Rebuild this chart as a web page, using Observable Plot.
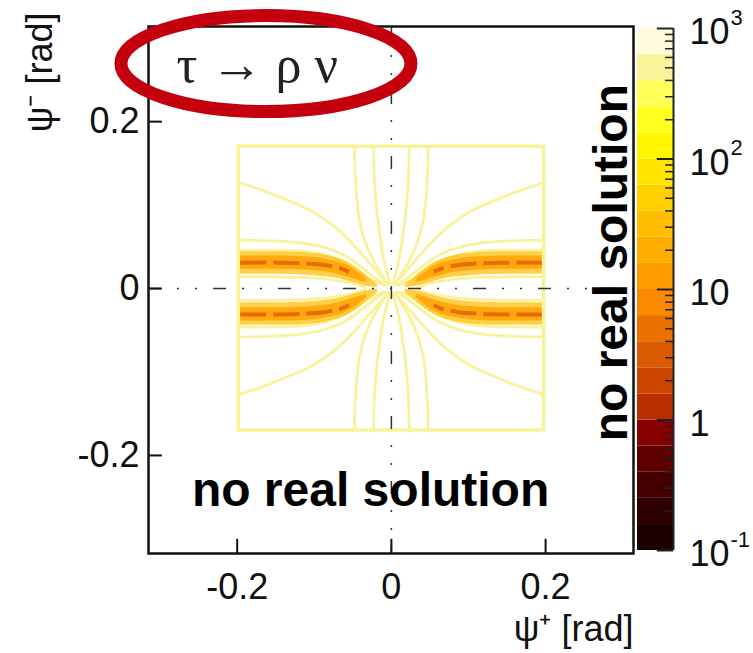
<!DOCTYPE html>
<html><head><meta charset="utf-8">
<script src="https://cdn.jsdelivr.net/npm/d3@7"></script>
<script src="https://cdn.jsdelivr.net/npm/@observablehq/plot@0.6"></script>
<style>
body{margin:0;background:#fff;}
#chart{position:relative;width:753px;height:653px;overflow:hidden;background:#fff;}
#chart svg{position:absolute;left:0;top:0;}
</style></head><body><div id="chart"></div>
<script>
// ---- axes ----
const xTicks = [-0.2, 0, 0.2];
const yTicks = [-0.2, 0, 0.2];
const xDomain = [-0.315, 0.314];
const yDomain = [-0.3175, 0.314];

// ---- colour levels (log bands, 10^-1 .. 10^3) ----
const levelEdges = [0.158, 0.251, 0.398, 0.631, 1, 1.585, 2.512, 3.981, 6.31, 10, 15.85, 25.12, 39.81, 63.1, 100, 158.5, 251.2, 398.1, 631];
const palette = ["#1c0000","#2e0000","#440000","#5e0000","#860000","#b83000","#cc4600","#dc5a00","#ec7000","#fb8a00",
                 "#ff9c00","#ffad00","#ffbe00","#ffcf00","#ffe400","#fff500","#ffff20","#ffff58","#f8f39a","#fffbdc"];
const cbMajor = [0.1, 1, 10, 100, 1000];
const cbBase = ["10", "1", "10", "10", "10"];
const cbExp = ["-1", "", "", "2", "3"];
const cbMinor = [0.2,0.3,0.4,0.5,0.6,0.7,0.8,0.9, 2,3,4,5,6,7,8,9, 20,30,40,50,60,70,80,90, 200,300,400,500,600,700,800,900];

// ---- contour picture (upper-left quadrant, picture is mirror symmetric) ----
const boxX = [-0.198, 0.198];
const boxY = [-0.17, 0.17];
const lineLevel = 500;
const curveDiag = [[-0.198,0.127],[-0.165,0.117],[-0.13,0.104],[-0.10,0.091],[-0.075,0.075],[-0.055,0.058],[-0.038,0.041],[-0.022,0.024],[-0.008,0.009]];
const curveH1 = [[-0.198,0.058],[-0.15,0.057],[-0.12,0.055],[-0.09,0.050],[-0.066,0.042],[-0.048,0.032],[-0.034,0.022],[-0.02,0.012],[-0.007,0.004]];
const curveH2 = [[-0.198,0.046],[-0.15,0.046],[-0.12,0.045],[-0.095,0.042],[-0.075,0.037],[-0.057,0.029],[-0.042,0.020],[-0.026,0.011],[-0.01,0.004]];
const curveLens = [[-0.198,0.014],[-0.15,0.014],[-0.11,0.013],[-0.08,0.011],[-0.06,0.008],[-0.045,0.005],[-0.034,0.001]];
const curveV1 = [[-0.048,0.17],[-0.047,0.14],[-0.045,0.11],[-0.041,0.08],[-0.034,0.056],[-0.024,0.035],[-0.012,0.016],[-0.004,0.005]];
const curveV2 = [[-0.023,0.17],[-0.022,0.13],[-0.019,0.095],[-0.015,0.065],[-0.011,0.04],[-0.006,0.02],[-0.002,0.006]];
// band edges [x, lower, upper]
const bandOuterEdges = [[-0.198,0.017,0.044],[-0.15,0.017,0.044],[-0.11,0.016,0.043],[-0.085,0.014,0.040],[-0.065,0.011,0.035],[-0.05,0.007,0.028],[-0.038,0.004,0.020],[-0.028,0.002,0.012],[-0.018,0.001,0.005]];
const bandMidEdges = [[-0.198,0.023,0.039],[-0.15,0.023,0.039],[-0.11,0.022,0.038],[-0.085,0.020,0.035],[-0.065,0.016,0.031],[-0.05,0.012,0.024],[-0.04,0.009,0.017],[-0.032,0.007,0.011]];
const bandCore = [[-0.196,0.031],[-0.15,0.031],[-0.11,0.030],[-0.085,0.028],[-0.065,0.024],[-0.055,0.020]];
const bandOuterLevel = 30, bandMidLevel = 12, bandCoreLevel = 2.8;

// ---- annotations ----
const titleText = ["τ → ρ ν"];
const titlePos = [-0.174, 0.247];
const ellipseCenter = [-0.162, 0.269];
const notes = [
  {text: "no real solution", x: -0.027, y: -0.26, rotate: 0},
  {text: "no real solution", x: 0.306, y: 0.031, rotate: -90}
];

const quadrants = [[1,1],[-1,1],[1,-1],[-1,-1]];
function mirror(name, pts, level) {
  return quadrants.flatMap(([sx, sy], q) => pts.map(([x, y]) => ({x: sx * x, y: sy * y, level, id: name + q})));
}
function mirrorBand(name, pts, level) {
  return quadrants.flatMap(([sx, sy], q) => pts.map(([x, lo, hi]) => ({x: sx * x, y1: sy * lo, y2: sy * hi, level, id: name + q})));
}
const lineRows = [
  ...mirror("diag", curveDiag, lineLevel), ...mirror("h1", curveH1, lineLevel),
  ...mirror("h2", curveH2, lineLevel), ...mirror("lens", curveLens, lineLevel),
  ...mirror("v1", curveV1, lineLevel), ...mirror("v2", curveV2, lineLevel)
];
const bandOuter = mirrorBand("bo", bandOuterEdges, bandOuterLevel);
const bandMid = mirrorBand("bm", bandMidEdges, bandMidLevel);
const bandCoreRows = mirror("bc", bandCore, bandCoreLevel);
const box = [{x1: boxX[0], x2: boxX[1], y1: boxY[0], y2: boxY[1], level: lineLevel}];

const fmt = d => d === 0 ? "0" : String(d);
const font = "'Liberation Sans', Arial, Helvetica, sans-serif";
const colorScale = {type: "threshold", domain: levelEdges, range: palette};

const main = Plot.plot({
  width: 753, height: 653,
  marginLeft: 148, marginRight: 120, marginTop: 26, marginBottom: 100,
  style: {fontFamily: font, fontSize: "36px", background: "transparent", color: "#111"},
  x: {domain: xDomain, ticks: xTicks, tickFormat: fmt, tickSize: 0, tickPadding: 20, label: null},
  y: {domain: yDomain, ticks: yTicks, tickFormat: fmt, tickSize: 0, tickPadding: 9, label: null},
  color: colorScale,
  marks: [
    Plot.line(lineRows, {x: "x", y: "y", z: "id", stroke: "level", strokeWidth: 2.8, curve: "catmull-rom"}),
    Plot.areaY(bandOuter, {x: "x", y1: "y1", y2: "y2", z: "id", fill: "level", fillOpacity: 0.72, curve: "catmull-rom"}),
    Plot.areaY(bandMid, {x: "x", y1: "y1", y2: "y2", z: "id", fill: "level", fillOpacity: 0.78, curve: "catmull-rom"}),
    Plot.line(bandCoreRows, {x: "x", y: "y", z: "id", stroke: "level", strokeWidth: 4, strokeOpacity: 0.75, strokeLinecap: "butt", strokeDasharray: "26,7", curve: "catmull-rom"}),
    Plot.rect(box, {x1: "x1", x2: "x2", y1: "y1", y2: "y2", stroke: "level", fill: "none", strokeWidth: 3.5}),
    Plot.ruleX([0], {stroke: "#333", strokeWidth: 1.5, strokeDasharray: "13,16,2,16,2,16"}),
    Plot.ruleY([0], {stroke: "#333", strokeWidth: 1.5, strokeDasharray: "13,16,2,16,2,16"}),
    Plot.ruleX(xTicks, {y1: yDomain[0], y2: yDomain[0] + 0.017, stroke: "#111", strokeWidth: 2}),
    Plot.ruleY(yTicks, {x1: xDomain[0], x2: xDomain[0] + 0.018, stroke: "#111", strokeWidth: 2}),
    Plot.frame({stroke: "#111", strokeWidth: 2.5}),
    Plot.text(notes, {x: "x", y: "y", text: "text", rotate: "rotate", textAnchor: "middle", lineAnchor: "bottom",
      fontSize: 48, fontWeight: "bold", fill: "#000"}),
    Plot.text(titleText, {x: titlePos[0], y: titlePos[1], text: d => d, textAnchor: "middle", lineAnchor: "bottom",
      fontSize: 52, fontFamily: "'Liberation Serif', 'DejaVu Serif', serif", fill: "#222"}),
    Plot.text(["ψ⁺ [rad]"], {frameAnchor: "bottom-right", text: d => d, textAnchor: "end", lineAnchor: "bottom", dy: 87, fontSize: 36}),
    Plot.text(["ψ⁻ [rad]"], {frameAnchor: "top-left", text: d => d, textAnchor: "end", lineAnchor: "bottom", rotate: -90, dx: -97, dy: -14, fontSize: 36})
  ]
});

// red ring annotation around the title
const sx = main.scale("x"), sy = main.scale("y");
d3.select(main).append("ellipse")
  .attr("cx", sx.apply(ellipseCenter[0])).attr("cy", sy.apply(ellipseCenter[1]))
  .attr("rx", 145).attr("ry", 48)
  .attr("fill", "none").attr("stroke", "#c4000f").attr("stroke-width", 13);

// colour bar
const lows = [0.1, ...levelEdges];
const highs = [...levelEdges, 1000];
const cbBands = lows.map((lo, i) => ({lo, hi: highs[i], mid: Math.sqrt(lo * highs[i])}));

const cb = Plot.plot({
  width: 753, height: 653,
  marginLeft: 637, marginRight: 80, marginTop: 28, marginBottom: 103,
  style: {fontFamily: font, fontSize: "36px", background: "transparent", color: "#111"},
  x: {domain: [0, 1], axis: null},
  y: {type: "log", domain: [0.1, 1000], axis: null},
  color: colorScale,
  marks: [
    Plot.rect(cbBands, {x1: 0, x2: 1, y1: "lo", y2: "hi", fill: "mid"}),
    Plot.ruleX([1], {y1: 0.1, y2: 1000, stroke: "#222", strokeWidth: 2}),
    Plot.ruleY(cbMajor, {x1: 0.55, x2: 1, stroke: "#222", strokeWidth: 2}),
    Plot.ruleY(cbMinor, {x1: 0.78, x2: 1, stroke: "#222", strokeWidth: 1.5}),
    Plot.text(cbMajor, {x: 1, y: d => d, text: (d, i) => cbBase[i], dx: 16, dy: 4, textAnchor: "start", fontSize: 36}),
    Plot.text(cbMajor, {x: 1, y: d => d, text: (d, i) => cbExp[i], dx: 57, dy: -11, textAnchor: "start", fontSize: 22})
  ]
});

const chart = document.getElementById("chart");
chart.appendChild(main);
chart.appendChild(cb);
</script>
</body></html>
